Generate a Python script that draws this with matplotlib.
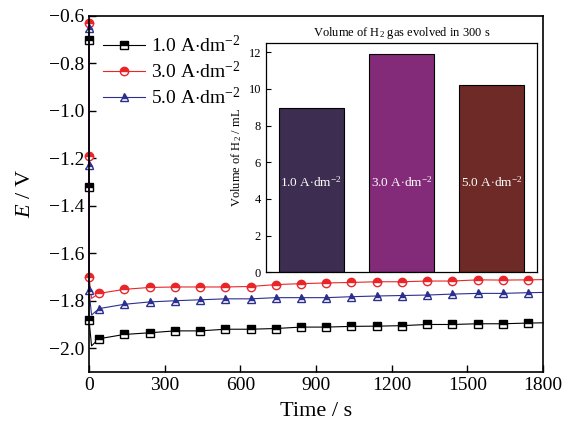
import matplotlib
matplotlib.use('Agg')
import matplotlib.pyplot as plt
from matplotlib.ticker import MultipleLocator

plt.rcParams['font.family'] = 'Liberation Serif'
plt.rcParams['mathtext.fontset'] = 'custom'
plt.rcParams['mathtext.rm'] = 'Liberation Serif'
plt.rcParams['mathtext.it'] = 'Liberation Serif:italic'
plt.rcParams['axes.unicode_minus'] = True

# chronopotentiometry curves (markers every 100 s, plus initial transient at t=0)
time_s = [0, 0, 0, 10, 40, 140, 240, 340, 440, 540, 640, 740, 840, 940,
          1040, 1140, 1240, 1340, 1440, 1540, 1640, 1740, 1800]
e_1a = [-0.70, -1.32, -1.88, -1.99, -1.96, -1.942, -1.935, -1.927, -1.927, -1.920,
        -1.920, -1.917, -1.911, -1.911, -1.908, -1.907, -1.905, -1.900, -1.900,
        -1.897, -1.897, -1.894, -1.893]
e_3a = [-0.63, -1.19, -1.70, -1.79, -1.769, -1.752, -1.744, -1.742, -1.742, -1.742,
        -1.740, -1.732, -1.728, -1.725, -1.723, -1.720, -1.720, -1.717, -1.717,
        -1.712, -1.713, -1.712, -1.711]
e_5a = [-0.65, -1.23, -1.756, -1.86, -1.833, -1.815, -1.805, -1.800, -1.796, -1.792,
        -1.792, -1.787, -1.787, -1.787, -1.783, -1.780, -1.778, -1.776, -1.772,
        -1.769, -1.769, -1.766, -1.765]
marker_idx = [0, 1, 2] + list(range(4, 22))

labels = [r'1.0 A$\cdot$dm$^{-2}$', r'3.0 A$\cdot$dm$^{-2}$', r'5.0 A$\cdot$dm$^{-2}$']

# inset: H2 volume in 300 s
h2_volume = [8.95, 11.92, 10.22]
bar_colors = ['#3d2d50', '#832b78', '#6e2a26']

fig = plt.figure(figsize=(5.67, 4.30), dpi=100)
ax = fig.add_axes([0.157, 0.135, 0.801, 0.828])

ax.plot(time_s, e_1a, color='black', lw=0.8, marker='s', markevery=marker_idx,
        ms=5.5, mfc='black', mec='black', fillstyle='top', markerfacecoloralt='white',
        label=labels[0], clip_on=False)
ax.plot(time_s, e_3a, color='#e8262a', lw=0.8, marker='o', markevery=marker_idx,
        ms=6, mfc='#e8262a', mec='#e8262a', fillstyle='top', markerfacecoloralt='white',
        label=labels[1], clip_on=False)
ax.plot(time_s, e_5a, color='#2c2f8e', lw=0.8, marker='^', markevery=marker_idx,
        ms=6, mfc='#2c2f8e', mec='#2c2f8e', fillstyle='top', markerfacecoloralt='white',
        label=labels[2], clip_on=False)

ax.set_xlim(0, 1800)
ax.set_ylim(-2.1, -0.6)
ax.xaxis.set_major_locator(MultipleLocator(300))
ax.yaxis.set_major_locator(MultipleLocator(0.2))
ax.tick_params(direction='in', labelsize=14, length=5, width=1)
for s in ax.spines.values():
    s.set_linewidth(1.2)
ax.set_xlabel('Time / s', fontsize=16, labelpad=6)
ax.set_ylabel(r'$E$ / V', fontsize=16, labelpad=10)
ax.legend(loc='upper left', frameon=False, fontsize=14, handlelength=2.2,
          handletextpad=0.3, labelspacing=0.25, borderaxespad=0.3,
          bbox_to_anchor=(0.0, 0.985))

# inset bar chart
ins = fig.add_axes([0.469, 0.367, 0.478, 0.533])
xs = range(len(h2_volume))
ins.bar(xs, h2_volume, width=0.72, color=bar_colors, edgecolor='black', linewidth=0.8)
for x, lab in zip(xs, labels):
    ins.text(x, 4.9, lab, color='white', ha='center', va='center', fontsize=9.5)
ins.set_xlim(-0.5, 2.5)
ins.set_ylim(0, 12.5)
ins.set_xticks([])
ins.yaxis.set_major_locator(MultipleLocator(2))
ins.tick_params(direction='in', labelsize=9, length=3.5, width=0.8)
for s in ins.spines.values():
    s.set_linewidth(0.9)
ins.set_ylabel(r'Volume of H$_2$ / mL', fontsize=9, labelpad=3)
ins.set_title(r'Volume of H$_2$ gas evolved in 300 s', fontsize=9, pad=5)

plt.savefig('out.png', dpi=100)
